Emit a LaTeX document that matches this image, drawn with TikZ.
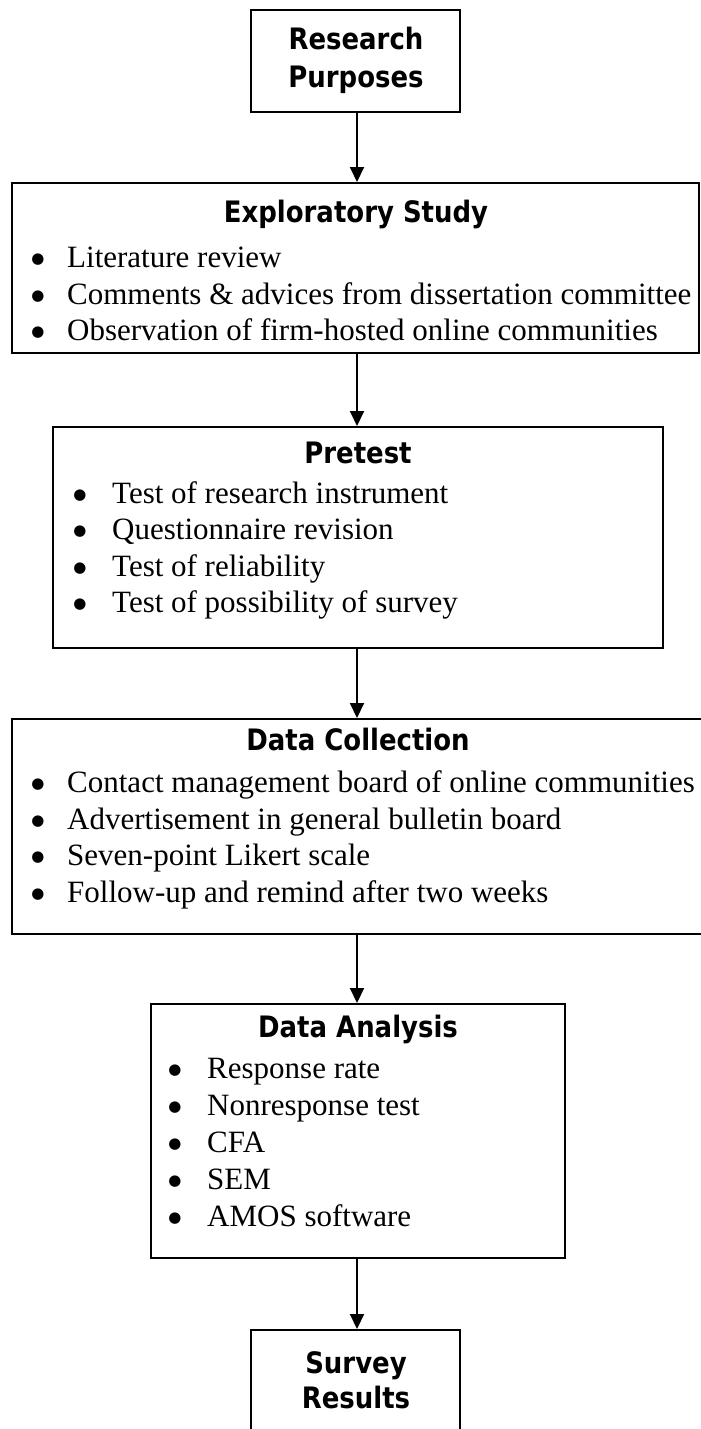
\documentclass[tikz,border=0pt]{standalone}
\usepackage{fontspec}
\setmainfont{Liberation Serif}
\newfontfamily\titlefont[FakeStretch=0.88]{DejaVu Sans}
\newfontfamily\symfont{DejaVu Sans}
\usetikzlibrary{arrows.meta}
\begin{document}
\begin{tikzpicture}[x=1pt,y=-1pt,
  box/.style={draw, line width=2pt, inner sep=0pt, fill=white},
  ttl/.style={font=\titlefont\bfseries\fontsize{29.5}{33}\selectfont, anchor=mid, inner sep=0pt},
  itm/.style={font=\fontsize{31}{36}\selectfont, anchor=mid west, inner sep=0pt},
  bul/.style={font=\symfont\fontsize{15}{16}\selectfont, anchor=base, inner sep=0pt},
  arr/.style={line width=2pt, -{Triangle[width=14pt,length=15pt]}}
]
\useasboundingbox (0,0) rectangle (701,1429);
\coordinate (ax) at (357,0);

% boxes
\node[box, minimum width=209pt, minimum height=102pt] (b1) at (355.5,61) {};
\node[box, minimum width=687pt, minimum height=170pt] (b2) at (355.5,268) {};
\node[box, minimum width=610pt, minimum height=221pt] (b3) at (358,537.5) {};
\node[box, minimum width=693pt, minimum height=215pt] (b4) at (358.5,826.5) {};
\node[box, minimum width=414pt, minimum height=254pt] (b5) at (358,1131) {};
\node[box, minimum width=209pt, minimum height=115pt] (b6) at (355.5,1387.5) {};

% arrows
\draw[arr] (b1.south -| ax) -- (b2.north -| ax);
\draw[arr] (b2.south -| ax) -- (b3.north -| ax);
\draw[arr] (b3.south -| ax) -- (b4.north -| ax);
\draw[arr] (b4.south -| ax) -- (b5.north -| ax);
\draw[arr] (b5.south -| ax) -- (b6.north -| ax);

% box 1
\node[ttl] (t1a) at (356,47) {Research};
\node[ttl] (t1b) at (356,85) {Purposes};

% box 2
\node[ttl] (t2) at (356,220) {Exploratory Study};
\node[bul] (b2i1) at (38,263) {●};
\node[itm] (t2i1) at (67,265) {Literature review};
\node[bul] (b2i2) at (38,300) {●};
\node[itm] (t2i2) at (67,302) {Comments \& advices from dissertation committee};
\node[bul] (b2i3) at (38,336) {●};
\node[itm] (t2i3) at (67,338) {Observation of firm-hosted online communities};

% box 3
\node[ttl] (t3) at (358,461) {Pretest};
\node[bul] (b3i1) at (80,499) {●};
\node[itm] (t3i1) at (112,501) {Test of research instrument};
\node[bul] (b3i2) at (80,535) {●};
\node[itm] (t3i2) at (112,537) {Questionnaire revision};
\node[bul] (b3i3) at (80,572) {●};
\node[itm] (t3i3) at (112,574) {Test of reliability};
\node[bul] (b3i4) at (80,608) {●};
\node[itm] (t3i4) at (112,610) {Test of possibility of survey};

% box 4
\node[ttl] (t4) at (358,748) {Data Collection};
\node[bul] (b4i1) at (38,788) {●};
\node[itm] (t4i1) at (67,790) {Contact management board of online communities};
\node[bul] (b4i2) at (38,825) {●};
\node[itm] (t4i2) at (67,827) {Advertisement in general bulletin board};
\node[bul] (b4i3) at (38,861) {●};
\node[itm] (t4i3) at (67,863) {Seven-point Likert scale};
\node[bul] (b4i4) at (38,898) {●};
\node[itm] (t4i4) at (67,900) {Follow-up and remind after two weeks};

% box 5
\node[ttl] (t5) at (358,1035) {Data Analysis};
\node[bul] (b5i1) at (175,1074) {●};
\node[itm] (t5i1) at (207,1076) {Response rate};
\node[bul] (b5i2) at (175,1111) {●};
\node[itm] (t5i2) at (207,1113) {Nonresponse test};
\node[bul] (b5i3) at (175,1148) {●};
\node[itm] (t5i3) at (207,1150) {CFA};
\node[bul] (b5i4) at (175,1185) {●};
\node[itm] (t5i4) at (207,1187) {SEM};
\node[bul] (b5i5) at (175,1222) {●};
\node[itm] (t5i5) at (207,1224) {AMOS software};

% box 6
\node[ttl] (t6a) at (356,1371) {Survey};
\node[ttl] (t6b) at (356,1406) {Results};
\end{tikzpicture}
\end{document}
